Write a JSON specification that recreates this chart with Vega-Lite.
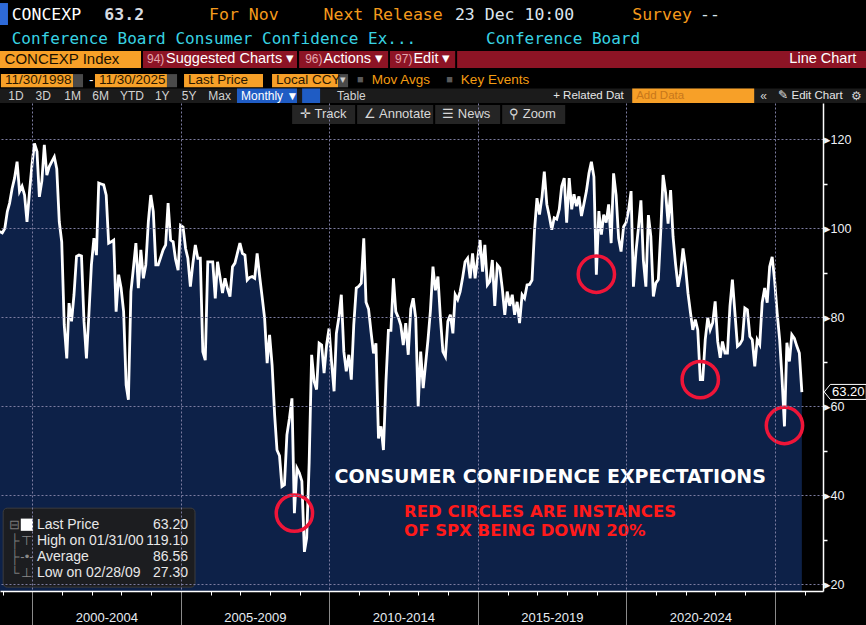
{
  "$schema": "https://vega.github.io/schema/vega-lite/v6.json",
  "width": 823,
  "height": 488,
  "autosize": {"type": "none"},
  "padding": {"left": 0, "top": 103, "right": 43, "bottom": 34},
  "background": "#000000",
  "config": {"view": {"stroke": null}, "font": "Liberation Sans"},
  "datasets": {
    "concexp": [
      {"date": "1998-11-28", "value": 99.3}, {"date": "1998-12-28", "value": 99},
      {"date": "1999-01-28", "value": 100}, {"date": "1999-02-28", "value": 103.8}, {"date": "1999-03-28", "value": 105.7}, {"date": "1999-04-28", "value": 109},
      {"date": "1999-05-28", "value": 111.3}, {"date": "1999-06-28", "value": 115}, {"date": "1999-07-28", "value": 108.3}, {"date": "1999-08-28", "value": 109.5},
      {"date": "1999-09-28", "value": 107.5}, {"date": "1999-10-28", "value": 101.5}, {"date": "1999-11-28", "value": 108.3}, {"date": "1999-12-28", "value": 114.3},
      {"date": "2000-01-28", "value": 119.1}, {"date": "2000-02-28", "value": 117.3}, {"date": "2000-03-28", "value": 107.1}, {"date": "2000-04-28", "value": 110.7},
      {"date": "2000-05-28", "value": 118.8}, {"date": "2000-06-28", "value": 112}, {"date": "2000-07-28", "value": 113.9}, {"date": "2000-08-28", "value": 115},
      {"date": "2000-09-28", "value": 116.1}, {"date": "2000-10-28", "value": 113.4}, {"date": "2000-11-28", "value": 101.5}, {"date": "2000-12-28", "value": 97},
      {"date": "2001-01-28", "value": 78.3}, {"date": "2001-02-28", "value": 70.8}, {"date": "2001-03-28", "value": 83.2}, {"date": "2001-04-28", "value": 79.1},
      {"date": "2001-05-28", "value": 85.1}, {"date": "2001-06-28", "value": 93.7}, {"date": "2001-07-28", "value": 94}, {"date": "2001-08-28", "value": 93.8},
      {"date": "2001-09-28", "value": 79.1}, {"date": "2001-10-28", "value": 70.8}, {"date": "2001-11-28", "value": 81}, {"date": "2001-12-28", "value": 91.8},
      {"date": "2002-01-28", "value": 97.8}, {"date": "2002-02-28", "value": 94}, {"date": "2002-03-28", "value": 110.2}, {"date": "2002-04-28", "value": 110},
      {"date": "2002-05-28", "value": 109.8}, {"date": "2002-06-28", "value": 107.5}, {"date": "2002-07-28", "value": 96.7}, {"date": "2002-08-28", "value": 97},
      {"date": "2002-09-28", "value": 97.4}, {"date": "2002-10-28", "value": 81.3}, {"date": "2002-11-28", "value": 89.6}, {"date": "2002-12-28", "value": 86.6},
      {"date": "2003-01-28", "value": 81.3}, {"date": "2003-02-28", "value": 64.8}, {"date": "2003-03-28", "value": 61.5}, {"date": "2003-04-28", "value": 85.8},
      {"date": "2003-05-28", "value": 91}, {"date": "2003-06-28", "value": 96.7}, {"date": "2003-07-28", "value": 86.6}, {"date": "2003-08-28", "value": 95.2},
      {"date": "2003-09-28", "value": 88.8}, {"date": "2003-10-28", "value": 91.8}, {"date": "2003-11-28", "value": 101.5}, {"date": "2003-12-28", "value": 107.5},
      {"date": "2004-01-28", "value": 103.8}, {"date": "2004-02-28", "value": 91.8}, {"date": "2004-03-28", "value": 91.8}, {"date": "2004-04-28", "value": 93.5},
      {"date": "2004-05-28", "value": 95.2}, {"date": "2004-06-28", "value": 96.3}, {"date": "2004-07-28", "value": 105.7}, {"date": "2004-08-28", "value": 97.4},
      {"date": "2004-09-28", "value": 97}, {"date": "2004-10-28", "value": 93}, {"date": "2004-11-28", "value": 90.6}, {"date": "2004-12-28", "value": 100.7},
      {"date": "2005-01-28", "value": 100.3}, {"date": "2005-02-28", "value": 95.5}, {"date": "2005-03-28", "value": 93.3}, {"date": "2005-04-28", "value": 86.9},
      {"date": "2005-05-28", "value": 92}, {"date": "2005-06-28", "value": 96.3}, {"date": "2005-07-28", "value": 93.3}, {"date": "2005-08-28", "value": 93.3},
      {"date": "2005-09-28", "value": 72.3}, {"date": "2005-10-28", "value": 70.4}, {"date": "2005-11-28", "value": 92.5}, {"date": "2005-12-28", "value": 92.5},
      {"date": "2006-01-28", "value": 92.5}, {"date": "2006-02-28", "value": 84.3}, {"date": "2006-03-28", "value": 92.5}, {"date": "2006-04-28", "value": 89},
      {"date": "2006-05-28", "value": 85.5}, {"date": "2006-06-28", "value": 88.8}, {"date": "2006-07-28", "value": 86.5}, {"date": "2006-08-28", "value": 84.7},
      {"date": "2006-09-28", "value": 91.4}, {"date": "2006-10-28", "value": 92.2}, {"date": "2006-11-28", "value": 94.5}, {"date": "2006-12-28", "value": 96.7},
      {"date": "2007-01-28", "value": 94.4}, {"date": "2007-02-28", "value": 94}, {"date": "2007-03-28", "value": 88.4}, {"date": "2007-04-28", "value": 89},
      {"date": "2007-05-28", "value": 89.2}, {"date": "2007-06-28", "value": 88.8}, {"date": "2007-07-28", "value": 94.4}, {"date": "2007-08-28", "value": 89.2},
      {"date": "2007-09-28", "value": 84.5}, {"date": "2007-10-28", "value": 79.8}, {"date": "2007-11-28", "value": 69.7}, {"date": "2007-12-28", "value": 76.1},
      {"date": "2008-01-28", "value": 69.3}, {"date": "2008-02-28", "value": 58.1}, {"date": "2008-03-28", "value": 50.2}, {"date": "2008-04-28", "value": 48.9},
      {"date": "2008-05-28", "value": 42}, {"date": "2008-06-28", "value": 42.4}, {"date": "2008-07-28", "value": 53.6}, {"date": "2008-08-28", "value": 57.3},
      {"date": "2008-09-28", "value": 61.8}, {"date": "2008-10-28", "value": 36}, {"date": "2008-11-28", "value": 46.1}, {"date": "2008-12-28", "value": 45},
      {"date": "2009-01-28", "value": 43.2}, {"date": "2009-02-28", "value": 27.3}, {"date": "2009-03-28", "value": 30.4}, {"date": "2009-04-28", "value": 47.5},
      {"date": "2009-05-28", "value": 71.6}, {"date": "2009-06-28", "value": 65.6}, {"date": "2009-07-28", "value": 63.8}, {"date": "2009-08-28", "value": 74.2},
      {"date": "2009-09-28", "value": 73.8}, {"date": "2009-10-28", "value": 67.5}, {"date": "2009-11-28", "value": 73.8}, {"date": "2009-12-28", "value": 77.5},
      {"date": "2010-01-28", "value": 70}, {"date": "2010-02-28", "value": 63.4}, {"date": "2010-03-28", "value": 76.4}, {"date": "2010-04-28", "value": 80},
      {"date": "2010-05-28", "value": 85.1}, {"date": "2010-06-28", "value": 72.3}, {"date": "2010-07-28", "value": 67.9}, {"date": "2010-08-28", "value": 71.6},
      {"date": "2010-09-28", "value": 66}, {"date": "2010-10-28", "value": 78.3}, {"date": "2010-11-28", "value": 86.6}, {"date": "2010-12-28", "value": 87},
      {"date": "2011-01-28", "value": 87.7}, {"date": "2011-02-28", "value": 97.8}, {"date": "2011-03-28", "value": 83.4}, {"date": "2011-04-28", "value": 81.9},
      {"date": "2011-05-28", "value": 76.8}, {"date": "2011-06-28", "value": 71.9}, {"date": "2011-07-28", "value": 74.2}, {"date": "2011-08-28", "value": 52.8},
      {"date": "2011-09-28", "value": 55.5}, {"date": "2011-10-28", "value": 50.2}, {"date": "2011-11-28", "value": 65.6}, {"date": "2011-12-28", "value": 77.1},
      {"date": "2012-01-28", "value": 77.1}, {"date": "2012-02-28", "value": 88.8}, {"date": "2012-03-28", "value": 81.3}, {"date": "2012-04-28", "value": 80},
      {"date": "2012-05-28", "value": 78.3}, {"date": "2012-06-28", "value": 73.8}, {"date": "2012-07-28", "value": 78.7}, {"date": "2012-08-28", "value": 71.6},
      {"date": "2012-09-28", "value": 81.9}, {"date": "2012-10-28", "value": 84.3}, {"date": "2012-11-28", "value": 79.8}, {"date": "2012-12-28", "value": 60},
      {"date": "2013-01-28", "value": 72.3}, {"date": "2013-02-28", "value": 64.1}, {"date": "2013-03-28", "value": 69.3}, {"date": "2013-04-28", "value": 75},
      {"date": "2013-05-28", "value": 81.6}, {"date": "2013-06-28", "value": 91.4}, {"date": "2013-07-28", "value": 86.1}, {"date": "2013-08-28", "value": 89.2},
      {"date": "2013-09-28", "value": 79.8}, {"date": "2013-10-28", "value": 72.3}, {"date": "2013-11-28", "value": 71.2}, {"date": "2013-12-28", "value": 79.1},
      {"date": "2014-01-28", "value": 80.6}, {"date": "2014-02-28", "value": 76.4}, {"date": "2014-03-28", "value": 85.1}, {"date": "2014-04-28", "value": 84},
      {"date": "2014-05-28", "value": 85.8}, {"date": "2014-06-28", "value": 89}, {"date": "2014-07-28", "value": 92.5}, {"date": "2014-08-28", "value": 93.3},
      {"date": "2014-09-28", "value": 88.8}, {"date": "2014-10-28", "value": 94.4}, {"date": "2014-11-28", "value": 88.8}, {"date": "2014-12-28", "value": 93},
      {"date": "2015-01-28", "value": 97.4}, {"date": "2015-02-28", "value": 90.3}, {"date": "2015-03-28", "value": 96.3}, {"date": "2015-04-28", "value": 87.3},
      {"date": "2015-05-28", "value": 88.1}, {"date": "2015-06-28", "value": 92.9}, {"date": "2015-07-28", "value": 82.6}, {"date": "2015-08-28", "value": 91.8},
      {"date": "2015-09-28", "value": 91.1}, {"date": "2015-10-28", "value": 86.6}, {"date": "2015-11-28", "value": 80.6}, {"date": "2015-12-28", "value": 85.8},
      {"date": "2016-01-28", "value": 82.6}, {"date": "2016-02-28", "value": 85.1}, {"date": "2016-03-28", "value": 80.6}, {"date": "2016-04-28", "value": 83.5},
      {"date": "2016-05-28", "value": 78.7}, {"date": "2016-06-28", "value": 85.1}, {"date": "2016-07-28", "value": 84.3}, {"date": "2016-08-28", "value": 87.3},
      {"date": "2016-09-28", "value": 87.4}, {"date": "2016-10-28", "value": 88.4}, {"date": "2016-11-28", "value": 99.7}, {"date": "2016-12-28", "value": 106.8},
      {"date": "2017-01-28", "value": 103.1}, {"date": "2017-02-28", "value": 107.1}, {"date": "2017-03-28", "value": 112.8}, {"date": "2017-04-28", "value": 105.4},
      {"date": "2017-05-28", "value": 102.8}, {"date": "2017-06-28", "value": 99.7}, {"date": "2017-07-28", "value": 102.4}, {"date": "2017-08-28", "value": 102.1},
      {"date": "2017-09-28", "value": 104.3}, {"date": "2017-10-28", "value": 109.5}, {"date": "2017-11-28", "value": 111.3}, {"date": "2017-12-28", "value": 101.3},
      {"date": "2018-01-28", "value": 111.3}, {"date": "2018-02-28", "value": 104.3}, {"date": "2018-03-28", "value": 107.7}, {"date": "2018-04-28", "value": 105},
      {"date": "2018-05-28", "value": 107.2}, {"date": "2018-06-28", "value": 102.8}, {"date": "2018-07-28", "value": 105.5}, {"date": "2018-08-28", "value": 108.4},
      {"date": "2018-09-28", "value": 112.4}, {"date": "2018-10-28", "value": 115}, {"date": "2018-11-28", "value": 111.6}, {"date": "2018-12-28", "value": 89.6},
      {"date": "2019-01-28", "value": 103.9}, {"date": "2019-02-28", "value": 98.6}, {"date": "2019-03-28", "value": 103.1}, {"date": "2019-04-28", "value": 101.3},
      {"date": "2019-05-28", "value": 105.4}, {"date": "2019-06-28", "value": 96.7}, {"date": "2019-07-28", "value": 112.4}, {"date": "2019-08-28", "value": 107.5},
      {"date": "2019-09-28", "value": 97.8}, {"date": "2019-10-28", "value": 94.8}, {"date": "2019-11-28", "value": 100.4}, {"date": "2019-12-28", "value": 101.3},
      {"date": "2020-01-28", "value": 104}, {"date": "2020-02-28", "value": 108.4}, {"date": "2020-03-28", "value": 86.9}, {"date": "2020-04-28", "value": 94.8},
      {"date": "2020-05-28", "value": 100}, {"date": "2020-06-28", "value": 106.3}, {"date": "2020-07-28", "value": 92.9}, {"date": "2020-08-28", "value": 86.9},
      {"date": "2020-09-28", "value": 103}, {"date": "2020-10-28", "value": 98.2}, {"date": "2020-11-28", "value": 84.7}, {"date": "2020-12-28", "value": 87.7},
      {"date": "2021-01-28", "value": 88.5}, {"date": "2021-02-28", "value": 99.7}, {"date": "2021-03-28", "value": 112}, {"date": "2021-04-28", "value": 108},
      {"date": "2021-05-28", "value": 101.1}, {"date": "2021-06-28", "value": 108.6}, {"date": "2021-07-28", "value": 98.2}, {"date": "2021-08-28", "value": 92},
      {"date": "2021-09-28", "value": 86.9}, {"date": "2021-10-28", "value": 89.9}, {"date": "2021-11-28", "value": 95.5}, {"date": "2021-12-28", "value": 91.4},
      {"date": "2022-01-28", "value": 85.4}, {"date": "2022-02-28", "value": 81}, {"date": "2022-03-28", "value": 77.2}, {"date": "2022-04-28", "value": 79.5},
      {"date": "2022-05-28", "value": 77.2}, {"date": "2022-06-28", "value": 66}, {"date": "2022-07-28", "value": 66}, {"date": "2022-08-28", "value": 75},
      {"date": "2022-09-28", "value": 79.9}, {"date": "2022-10-28", "value": 77.2}, {"date": "2022-11-28", "value": 78.8}, {"date": "2022-12-28", "value": 83.6},
      {"date": "2023-01-28", "value": 74.6}, {"date": "2023-02-28", "value": 70.9}, {"date": "2023-03-28", "value": 74.6}, {"date": "2023-04-28", "value": 72},
      {"date": "2023-05-28", "value": 72}, {"date": "2023-06-28", "value": 82.5}, {"date": "2023-07-28", "value": 88.5}, {"date": "2023-08-28", "value": 81},
      {"date": "2023-09-28", "value": 73.5}, {"date": "2023-10-28", "value": 74}, {"date": "2023-11-28", "value": 75}, {"date": "2023-12-28", "value": 82.1},
      {"date": "2024-01-28", "value": 81.7}, {"date": "2024-02-28", "value": 75.7}, {"date": "2024-03-28", "value": 75}, {"date": "2024-04-28", "value": 69},
      {"date": "2024-05-28", "value": 75}, {"date": "2024-06-28", "value": 73.9}, {"date": "2024-07-28", "value": 83.3}, {"date": "2024-08-28", "value": 86.6},
      {"date": "2024-09-28", "value": 83.3}, {"date": "2024-10-28", "value": 91.4}, {"date": "2024-11-28", "value": 93.6}, {"date": "2024-12-28", "value": 88.4},
      {"date": "2025-01-28", "value": 81}, {"date": "2025-02-28", "value": 75}, {"date": "2025-03-28", "value": 66.7}, {"date": "2025-04-28", "value": 55.5},
      {"date": "2025-05-28", "value": 74.3}, {"date": "2025-06-28", "value": 70.1}, {"date": "2025-07-28", "value": 76.1}, {"date": "2025-08-28", "value": 75.3},
      {"date": "2025-09-28", "value": 73.5}, {"date": "2025-10-28", "value": 72}, {"date": "2025-11-28", "value": 63.2}
    ],
    "spx_down_20": [
      {"date": "2008-10-28", "value": 36},
      {"date": "2018-12-28", "value": 89.7},
      {"date": "2022-06-28", "value": 66},
      {"date": "2025-04-28", "value": 55.7}
    ]
  },
  "layer": [
    {
      "data": {"name": "concexp"},
      "mark": {"type": "area", "color": "#0d2148", "clip": true},
      "encoding": {
        "x": {
          "field": "date", "type": "temporal", "title": null,
          "scale": {"domain": [{"year": 1998, "month": 11, "date": 30}, {"year": 2026, "month": 8, "date": 15}]},
          "axis": {
            "values": [{"year": 1999}, {"year": 2000}, {"year": 2001}, {"year": 2002}, {"year": 2003}, {"year": 2004}, {"year": 2005}, {"year": 2006}, {"year": 2007}, {"year": 2008}, {"year": 2009}, {"year": 2010}, {"year": 2011}, {"year": 2012}, {"year": 2013}, {"year": 2014}, {"year": 2015}, {"year": 2016}, {"year": 2017}, {"year": 2018}, {"year": 2019}, {"year": 2020}, {"year": 2021}, {"year": 2022}, {"year": 2023}, {"year": 2024}, {"year": 2025}, {"year": 2026}],
            "tickCount": 60,
            "title": null,
            "domainColor": "#ffffff", "domainWidth": 1.5,
            "tickColor": {"condition": {"test": "year(datum.value) % 5 === 0", "value": "#8a8a8a"}, "value": "#ffffff"},
            "tickSize": {"condition": {"test": "year(datum.value) % 5 === 0", "value": 34}, "value": 4},
            "tickWidth": 1,
            "grid": true, "gridColor": "#7c7ca0", "gridDash": [2, 2],
            "gridOpacity": {"condition": {"test": "year(datum.value) % 5 === 0", "value": 1}, "value": 0},
            "labelExpr": "year(datum.value) % 5 === 0 && year(datum.value) < 2025 ? year(datum.value) + '-' + (year(datum.value) + 4) : ''",
            "labelOffset": 74, "labelPadding": -14,
            "labelColor": "#e6ecf2", "labelFont": "Liberation Sans", "labelFontSize": 13,
            "labelOverlap": false, "labelBound": false, "labelFlush": false,
            "zindex": 1
          }
        },
        "y": {
          "field": "value", "type": "quantitative", "title": null,
          "scale": {"domain": [18.5, 128.2], "nice": false, "zero": false},
          "axis": {
            "orient": "right",
            "values": [20, 30, 40, 50, 60, 70, 80, 90, 100, 110, 120],
            "tickCount": 30,
            "title": null,
            "domainColor": "#ffffff", "domainWidth": 1.5,
            "tickColor": "#ffffff", "tickSize": 4, "tickWidth": 1.5,
            "grid": true, "gridColor": "#7c7ca0", "gridDash": [2, 2],
            "gridOpacity": {"condition": {"test": "datum.value % 20 === 0", "value": 1}, "value": 0},
            "labelExpr": "datum.value % 20 === 0 ? '▸' + datum.label : ''",
            "labelPadding": -4,
            "labelColor": "#eef2f6", "labelFont": "Liberation Sans", "labelFontSize": 12.5,
            "labelOverlap": false, "labelBound": false, "labelFlush": false,
            "zindex": 1
          }
        }
      }
    },
    {
      "data": {"name": "concexp"},
      "mark": {"type": "line", "color": "#ffffff", "strokeWidth": 2.8, "clip": true},
      "encoding": {
        "x": {"field": "date", "type": "temporal"},
        "y": {"field": "value", "type": "quantitative"}
      }
    },
    {
      "data": {"name": "spx_down_20"},
      "mark": {"type": "point", "shape": "circle", "filled": false, "color": "#ef1538", "strokeWidth": 3.5, "size": 1320, "opacity": 1},
      "encoding": {
        "x": {"field": "date", "type": "temporal"},
        "y": {"field": "value", "type": "quantitative"}
      }
    },
    {
      "data": {"values": [{}]},
      "layer": [
        {"mark": {"type": "text", "align": "center", "baseline": "middle", "font": "DejaVu Sans", "fontWeight": "bold", "fontSize": 19, "color": "#ffffff"},
         "encoding": {"x": {"datum": {"year": 2017, "month": 6, "date": 8}}, "y": {"datum": 44.16}, "text": {"value": "CONSUMER CONFIDENCE EXPECTATIONS"}}},
        {"mark": {"type": "text", "align": "left", "baseline": "middle", "font": "DejaVu Sans", "fontWeight": "bold", "fontSize": 16.5, "lineHeight": 18.4, "color": "#ff1a1a"},
         "encoding": {"x": {"datum": {"year": 2012, "month": 7, "date": 8}}, "y": {"datum": 36.22}, "text": {"value": ["RED CIRCLES ARE INSTANCES", "OF SPX BEING DOWN 20%"]}}},

        {"mark": {"type": "rect", "fill": "#1c1d20", "stroke": "#3c3c3c", "strokeWidth": 1, "cornerRadius": 4},
         "encoding": {"x": {"datum": {"year": 1999, "month": 1, "date": 8}}, "x2": {"datum": {"year": 2005, "month": 6, "date": 24}}, "y": {"datum": 37.12}, "y2": {"datum": 19.37}}},
        {"mark": {"type": "point", "shape": "square", "filled": true, "color": "#ffffff", "size": 150, "opacity": 1},
         "encoding": {"x": {"datum": {"year": 1999, "month": 10, "date": 27}}, "y": {"datum": 33.4}}},
        {"mark": {"type": "text", "align": "center", "baseline": "middle", "fontSize": 13, "lineHeight": 15.9, "color": "#7a7a7a"},
         "encoding": {"x": {"datum": {"year": 1999, "month": 6, "date": 1}}, "y": {"datum": 33.37}, "text": {"value": ["⊟", "├", "├", "└"]}}},
        {"mark": {"type": "text", "align": "center", "baseline": "middle", "fontSize": 13, "lineHeight": 15.9, "color": "#8a8a8a"},
         "encoding": {"x": {"datum": {"year": 1999, "month": 10, "date": 27}}, "y": {"datum": 33.37}, "text": {"value": [" ", "⊤", "-•-", "⊥"]}}},
        {"mark": {"type": "text", "align": "left", "baseline": "middle", "font": "Liberation Sans", "fontSize": 14, "lineHeight": 15.9, "color": "#e8e8e8"},
         "encoding": {"x": {"datum": {"year": 2000, "month": 2, "date": 27}}, "y": {"datum": 33.37}, "text": {"value": ["Last Price", "High on 01/31/00", "Average", "Low on 02/28/09"]}}},
        {"mark": {"type": "text", "align": "right", "baseline": "middle", "font": "Liberation Sans", "fontSize": 14, "lineHeight": 15.9, "color": "#e8e8e8"},
         "encoding": {"x": {"datum": {"year": 2005, "month": 3, "date": 30}}, "y": {"datum": 33.37}, "text": {"value": ["63.20", "119.10", "86.56", "27.30"]}}},

        {"mark": {"type": "point", "shape": "M -1 0 L -0.714 -0.357 L 1 -0.357 L 1 0.357 L -0.714 0.357 Z", "size": 1764, "filled": true, "fill": "#000000", "stroke": "#ffffff", "strokeWidth": 1, "opacity": 1},
         "encoding": {"x": {"datum": {"year": 2027, "month": 5, "date": 16}}, "y": {"datum": 63.25}}},
        {"mark": {"type": "text", "align": "center", "baseline": "middle", "font": "Liberation Sans", "fontSize": 13, "color": "#ffffff"},
         "encoding": {"x": {"datum": {"year": 2027, "month": 6, "date": 22}}, "y": {"datum": 63.25}, "text": {"value": "63.20"}}},

        {"mark": {"type": "rect", "color": "#2e6ad8"},
         "encoding": {"x": {"datum": {"year": 1998, "month": 11, "date": 30}}, "x2": {"datum": {"year": 1999, "month": 3, "date": 8}}, "y": {"datum": 150.67}, "y2": {"datum": 145.73}}},
        {"mark": {"type": "text", "align": "left", "baseline": "middle", "font": "DejaVu Sans Mono", "fontSize": 16.5, "color": "#ffffff"},
         "encoding": {"x": {"datum": {"year": 1999, "month": 4, "date": 22}}, "y": {"datum": 147.98}, "text": {"value": "CONCEXP"}}},
        {"mark": {"type": "text", "align": "left", "baseline": "middle", "font": "DejaVu Sans Mono", "fontSize": 16.5, "fontWeight": "bold", "color": "#d6dbe0"},
         "encoding": {"x": {"datum": {"year": 2002, "month": 6, "date": 5}}, "y": {"datum": 147.98}, "text": {"value": "63.2"}}},
        {"mark": {"type": "text", "align": "left", "baseline": "middle", "font": "DejaVu Sans Mono", "fontSize": 16.5, "color": "#f49a1c"},
         "encoding": {"x": {"datum": {"year": 2005, "month": 12, "date": 14}}, "y": {"datum": 147.98}, "text": {"value": "For Nov"}}},
        {"mark": {"type": "text", "align": "left", "baseline": "middle", "font": "DejaVu Sans Mono", "fontSize": 16.5, "color": "#f49a1c"},
         "encoding": {"x": {"datum": {"year": 2009, "month": 10, "date": 21}}, "y": {"datum": 147.98}, "text": {"value": "Next Release"}}},
        {"mark": {"type": "text", "align": "left", "baseline": "middle", "font": "DejaVu Sans Mono", "fontSize": 16.5, "color": "#dde5ee"},
         "encoding": {"x": {"datum": {"year": 2014, "month": 3, "date": 25}}, "y": {"datum": 147.98}, "text": {"value": "23 Dec 10:00"}}},
        {"mark": {"type": "text", "align": "left", "baseline": "middle", "font": "DejaVu Sans Mono", "fontSize": 16.5, "color": "#f49a1c"},
         "encoding": {"x": {"datum": {"year": 2020, "month": 3, "date": 13}}, "y": {"datum": 147.98}, "text": {"value": "Survey"}}},
        {"mark": {"type": "text", "align": "left", "baseline": "middle", "font": "DejaVu Sans Mono", "fontSize": 16.5, "color": "#dde5ee"},
         "encoding": {"x": {"datum": {"year": 2022, "month": 6, "date": 24}}, "y": {"datum": 147.98}, "text": {"value": "--"}}},
        {"mark": {"type": "text", "align": "left", "baseline": "middle", "font": "DejaVu Sans Mono", "fontSize": 16, "color": "#38d3e3"},
         "encoding": {"x": {"datum": {"year": 1999, "month": 4, "date": 22}}, "y": {"datum": 142.54}, "text": {"value": "Conference Board Consumer Confidence Ex..."}}},
        {"mark": {"type": "text", "align": "left", "baseline": "middle", "font": "DejaVu Sans Mono", "fontSize": 16, "color": "#38d3e3"},
         "encoding": {"x": {"datum": {"year": 2015, "month": 4, "date": 11}}, "y": {"datum": 142.54}, "text": {"value": "Conference Board"}}},

        {"mark": {"type": "rect", "color": "#f7a028"},
         "encoding": {"x": {"datum": {"year": 1998, "month": 11, "date": 30}}, "x2": {"datum": {"year": 2003, "month": 8, "date": 30}}, "y": {"datum": 139.89}, "y2": {"datum": 136.07}}},
        {"mark": {"type": "rect", "color": "#8d1425"},
         "encoding": {"x": {"datum": {"year": 2003, "month": 9, "date": 23}}, "x2": {"datum": {"year": 2028, "month": 1, "date": 30}}, "y": {"datum": 139.89}, "y2": {"datum": 136.07}}},
        {"mark": {"type": "rect", "color": "#000000"},
         "encoding": {"x": {"datum": {"year": 2008, "month": 11, "date": 29}}, "x2": {"datum": {"year": 2008, "month": 12, "date": 25}}, "y": {"datum": 139.89}, "y2": {"datum": 136.07}}},
        {"mark": {"type": "rect", "color": "#000000"},
         "encoding": {"x": {"datum": {"year": 2011, "month": 12, "date": 24}}, "x2": {"datum": {"year": 2012, "month": 1, "date": 17}}, "y": {"datum": 139.89}, "y2": {"datum": 136.07}}},
        {"mark": {"type": "rect", "color": "#000000"},
         "encoding": {"x": {"datum": {"year": 2014, "month": 3, "date": 28}}, "x2": {"datum": {"year": 2014, "month": 4, "date": 21}}, "y": {"datum": 139.89}, "y2": {"datum": 136.07}}},
        {"mark": {"type": "text", "align": "left", "baseline": "middle", "fontSize": 15, "color": "#1a1000"},
         "encoding": {"x": {"datum": {"year": 1999, "month": 1, "date": 25}}, "y": {"datum": 137.98}, "text": {"value": "CONCEXP Index"}}},
        {"mark": {"type": "text", "align": "left", "baseline": "middle", "fontSize": 12, "color": "#e4a6ae"},
         "encoding": {"x": {"datum": {"year": 2003, "month": 11, "date": 11}}, "y": {"datum": 137.98}, "text": {"value": "94)"}}},
        {"mark": {"type": "text", "align": "left", "baseline": "middle", "fontSize": 14.5, "color": "#ffffff"},
         "encoding": {"x": {"datum": {"year": 2004, "month": 7, "date": 3}}, "y": {"datum": 137.98}, "text": {"value": "Suggested Charts ▾"}}},
        {"mark": {"type": "text", "align": "left", "baseline": "middle", "fontSize": 12, "color": "#e4a6ae"},
         "encoding": {"x": {"datum": {"year": 2009, "month": 3, "date": 9}}, "y": {"datum": 137.98}, "text": {"value": "96)"}}},
        {"mark": {"type": "text", "align": "left", "baseline": "middle", "fontSize": 14.5, "color": "#ffffff"},
         "encoding": {"x": {"datum": {"year": 2009, "month": 10, "date": 21}}, "y": {"datum": 137.98}, "text": {"value": "Actions ▾"}}},
        {"mark": {"type": "text", "align": "left", "baseline": "middle", "fontSize": 12, "color": "#e4a6ae"},
         "encoding": {"x": {"datum": {"year": 2012, "month": 3, "date": 19}}, "y": {"datum": 137.98}, "text": {"value": "97)"}}},
        {"mark": {"type": "text", "align": "left", "baseline": "middle", "fontSize": 14.5, "color": "#ffffff"},
         "encoding": {"x": {"datum": {"year": 2012, "month": 10, "date": 31}}, "y": {"datum": 137.98}, "text": {"value": "Edit ▾"}}},
        {"mark": {"type": "text", "align": "right", "baseline": "middle", "fontSize": 14.5, "color": "#ffffff"},
         "encoding": {"x": {"datum": {"year": 2027, "month": 9, "date": 28}}, "y": {"datum": 137.98}, "text": {"value": "Line Chart"}}},

        {"mark": {"type": "rect", "color": "#f7a028"},
         "encoding": {"x": {"datum": {"year": 1998, "month": 12, "date": 11}}, "x2": {"datum": {"year": 2001, "month": 5, "date": 16}}, "y": {"datum": 134.7}, "y2": {"datum": 131.74}}},
        {"mark": {"type": "rect", "color": "#f7a028"},
         "encoding": {"x": {"datum": {"year": 2002, "month": 2, "date": 10}}, "x2": {"datum": {"year": 2004, "month": 7, "date": 14}}, "y": {"datum": 134.7}, "y2": {"datum": 131.74}}},
        {"mark": {"type": "rect", "color": "#f7a028"},
         "encoding": {"x": {"datum": {"year": 2005, "month": 2, "date": 9}}, "x2": {"datum": {"year": 2007, "month": 10, "date": 8}}, "y": {"datum": 134.7}, "y2": {"datum": 131.74}}},
        {"mark": {"type": "rect", "color": "#f7a028"},
         "encoding": {"x": {"datum": {"year": 2008, "month": 1, "date": 27}}, "x2": {"datum": {"year": 2010, "month": 4, "date": 18}}, "y": {"datum": 134.7}, "y2": {"datum": 131.74}}},
        {"mark": {"type": "rect", "color": "#4a4a4a"},
         "encoding": {"x": {"datum": {"year": 2001, "month": 5, "date": 16}}, "x2": {"datum": {"year": 2001, "month": 9, "date": 16}}, "y": {"datum": 134.7}, "y2": {"datum": 131.74}}},
        {"mark": {"type": "rect", "color": "#4a4a4a"},
         "encoding": {"x": {"datum": {"year": 2004, "month": 7, "date": 14}}, "x2": {"datum": {"year": 2004, "month": 11, "date": 15}}, "y": {"datum": 134.7}, "y2": {"datum": 131.74}}},
        {"mark": {"type": "rect", "color": "#4a4a4a"},
         "encoding": {"x": {"datum": {"year": 2010, "month": 4, "date": 18}}, "x2": {"datum": {"year": 2010, "month": 8, "date": 19}}, "y": {"datum": 134.7}, "y2": {"datum": 131.74}}},
        {"mark": {"type": "text", "align": "left", "baseline": "middle", "fontSize": 13.5, "color": "#2a1800"},
         "encoding": {"x": {"datum": {"year": 1999, "month": 1, "date": 29}}, "y": {"datum": 133.3}, "text": {"value": "11/30/1998"}}},
        {"mark": {"type": "text", "align": "left", "baseline": "middle", "fontSize": 13.5, "color": "#ffffff"},
         "encoding": {"x": {"datum": {"year": 2001, "month": 11, "date": 29}}, "y": {"datum": 133.3}, "text": {"value": "-"}}},
        {"mark": {"type": "text", "align": "left", "baseline": "middle", "fontSize": 13.5, "color": "#2a1800"},
         "encoding": {"x": {"datum": {"year": 2002, "month": 3, "date": 31}}, "y": {"datum": 133.3}, "text": {"value": "11/30/2025"}}},
        {"mark": {"type": "text", "align": "left", "baseline": "middle", "fontSize": 13.5, "color": "#2a1800"},
         "encoding": {"x": {"datum": {"year": 2005, "month": 3, "date": 30}}, "y": {"datum": 133.3}, "text": {"value": "Last Price"}}},
        {"mark": {"type": "text", "align": "left", "baseline": "middle", "fontSize": 13.5, "color": "#2a1800"},
         "encoding": {"x": {"datum": {"year": 2008, "month": 3, "date": 16}}, "y": {"datum": 133.3}, "text": {"value": "Local CCY"}}},
        {"mark": {"type": "text", "align": "center", "baseline": "middle", "fontSize": 11, "color": "#cfcfcf"},
         "encoding": {"x": {"datum": {"year": 2010, "month": 6, "date": 19}}, "y": {"datum": 133.3}, "text": {"value": "▾"}}},
        {"mark": {"type": "text", "align": "left", "baseline": "middle", "fontSize": 11, "color": "#5a5a5a"},
         "encoding": {"x": {"datum": {"year": 2010, "month": 12, "date": 8}}, "y": {"datum": 133.3}, "text": {"value": "■"}}},
        {"mark": {"type": "text", "align": "left", "baseline": "middle", "fontSize": 13.5, "color": "#f39c12"},
         "encoding": {"x": {"datum": {"year": 2011, "month": 6, "date": 6}}, "y": {"datum": 133.3}, "text": {"value": "Mov Avgs"}}},
        {"mark": {"type": "text", "align": "left", "baseline": "middle", "fontSize": 11, "color": "#5a5a5a"},
         "encoding": {"x": {"datum": {"year": 2013, "month": 12, "date": 7}}, "y": {"datum": 133.3}, "text": {"value": "■"}}},
        {"mark": {"type": "text", "align": "left", "baseline": "middle", "fontSize": 13.5, "color": "#f39c12"},
         "encoding": {"x": {"datum": {"year": 2014, "month": 6, "date": 6}}, "y": {"datum": 133.3}, "text": {"value": "Key Events"}}},

        {"mark": {"type": "rect", "color": "#1b1b1b"},
         "encoding": {"x": {"datum": {"year": 1998, "month": 11, "date": 30}}, "x2": {"datum": {"year": 2028, "month": 1, "date": 30}}, "y": {"datum": 131.46}, "y2": {"datum": 128.2}}},
        {"mark": {"type": "rect", "color": "#1f5cc4"},
         "encoding": {"x": {"datum": {"year": 2006, "month": 11, "date": 22}}, "x2": {"datum": {"year": 2008, "month": 11, "date": 29}}, "y": {"datum": 131.46}, "y2": {"datum": 128.2}}},
        {"mark": {"type": "rect", "color": "#1f5cc4"},
         "encoding": {"x": {"datum": {"year": 2009, "month": 1, "date": 31}}, "x2": {"datum": {"year": 2009, "month": 9, "date": 9}}, "y": {"datum": 131.46}, "y2": {"datum": 128.2}}},
        {"mark": {"type": "rect", "color": "#f7a028"},
         "encoding": {"x": {"datum": {"year": 2020, "month": 3, "date": 13}}, "x2": {"datum": {"year": 2024, "month": 4, "date": 21}}, "y": {"datum": 131.46}, "y2": {"datum": 128.2}}},
        {"mark": {"type": "text", "align": "left", "baseline": "middle", "fontSize": 12, "color": "#d2d2d2"},
         "encoding": {"x": {"datum": {"year": 1999, "month": 3, "date": 12}}, "y": {"datum": 129.78}, "text": {"value": "1D"}}},
        {"mark": {"type": "text", "align": "left", "baseline": "middle", "fontSize": 12, "color": "#d2d2d2"},
         "encoding": {"x": {"datum": {"year": 2000, "month": 2, "date": 11}}, "y": {"datum": 129.78}, "text": {"value": "3D"}}},
        {"mark": {"type": "text", "align": "left", "baseline": "middle", "fontSize": 12, "color": "#d2d2d2"},
         "encoding": {"x": {"datum": {"year": 2001, "month": 1, "date": 29}}, "y": {"datum": 129.78}, "text": {"value": "1M"}}},
        {"mark": {"type": "text", "align": "left", "baseline": "middle", "fontSize": 12, "color": "#d2d2d2"},
         "encoding": {"x": {"datum": {"year": 2002, "month": 1, "date": 8}}, "y": {"datum": 129.78}, "text": {"value": "6M"}}},
        {"mark": {"type": "text", "align": "left", "baseline": "middle", "fontSize": 12, "color": "#d2d2d2"},
         "encoding": {"x": {"datum": {"year": 2002, "month": 12, "date": 14}}, "y": {"datum": 129.78}, "text": {"value": "YTD"}}},
        {"mark": {"type": "text", "align": "left", "baseline": "middle", "fontSize": 12, "color": "#d2d2d2"},
         "encoding": {"x": {"datum": {"year": 2004, "month": 2, "date": 17}}, "y": {"datum": 129.78}, "text": {"value": "1Y"}}},
        {"mark": {"type": "text", "align": "left", "baseline": "middle", "fontSize": 12, "color": "#d2d2d2"},
         "encoding": {"x": {"datum": {"year": 2005, "month": 1, "date": 12}}, "y": {"datum": 129.78}, "text": {"value": "5Y"}}},
        {"mark": {"type": "text", "align": "left", "baseline": "middle", "fontSize": 12, "color": "#d2d2d2"},
         "encoding": {"x": {"datum": {"year": 2005, "month": 12, "date": 5}}, "y": {"datum": 129.78}, "text": {"value": "Max"}}},
        {"mark": {"type": "text", "align": "left", "baseline": "middle", "fontSize": 12, "color": "#ffffff"},
         "encoding": {"x": {"datum": {"year": 2007, "month": 1, "date": 11}}, "y": {"datum": 129.78}, "text": {"value": "Monthly ▼"}}},
        {"mark": {"type": "text", "align": "left", "baseline": "middle", "fontSize": 12, "color": "#d2d2d2"},
         "encoding": {"x": {"datum": {"year": 2010, "month": 4, "date": 6}}, "y": {"datum": 129.78}, "text": {"value": "Table"}}},
        {"mark": {"type": "text", "align": "left", "baseline": "middle", "fontSize": 11.5, "color": "#e6e6e6"},
         "encoding": {"x": {"datum": {"year": 2017, "month": 7, "date": 15}}, "y": {"datum": 129.78}, "text": {"value": "+ Related Dat"}}},
        {"mark": {"type": "text", "align": "left", "baseline": "middle", "fontSize": 11.5, "color": "#c8771a"},
         "encoding": {"x": {"datum": {"year": 2020, "month": 5, "date": 1}}, "y": {"datum": 129.78}, "text": {"value": "Add Data"}}},
        {"mark": {"type": "text", "align": "left", "baseline": "middle", "fontSize": 12, "color": "#d2d2d2"},
         "encoding": {"x": {"datum": {"year": 2024, "month": 7, "date": 4}}, "y": {"datum": 129.78}, "text": {"value": "«"}}},
        {"mark": {"type": "text", "align": "left", "baseline": "middle", "fontSize": 11.5, "color": "#e6e6e6"},
         "encoding": {"x": {"datum": {"year": 2025, "month": 2, "date": 11}}, "y": {"datum": 129.78}, "text": {"value": "✎ Edit Chart"}}},
        {"mark": {"type": "text", "align": "left", "baseline": "middle", "fontSize": 12, "color": "#d2d2d2"},
         "encoding": {"x": {"datum": {"year": 2027, "month": 7, "date": 29}}, "y": {"datum": 129.78}, "text": {"value": "⚙"}}},

        {"mark": {"type": "rect", "color": "#252525"},
         "encoding": {"x": {"datum": {"year": 2008, "month": 9, "date": 30}}, "x2": {"datum": {"year": 2010, "month": 11, "date": 14}}, "y": {"datum": 127.75}, "y2": {"datum": 123.48}}},
        {"mark": {"type": "rect", "color": "#252525"},
         "encoding": {"x": {"datum": {"year": 2010, "month": 12, "date": 8}}, "x2": {"datum": {"year": 2013, "month": 7, "date": 1}}, "y": {"datum": 127.75}, "y2": {"datum": 123.48}}},
        {"mark": {"type": "rect", "color": "#252525"},
         "encoding": {"x": {"datum": {"year": 2013, "month": 7, "date": 25}}, "x2": {"datum": {"year": 2015, "month": 10, "date": 2}}, "y": {"datum": 127.75}, "y2": {"datum": 123.48}}},
        {"mark": {"type": "rect", "color": "#252525"},
         "encoding": {"x": {"datum": {"year": 2015, "month": 10, "date": 27}}, "x2": {"datum": {"year": 2017, "month": 12, "date": 10}}, "y": {"datum": 127.75}, "y2": {"datum": 123.48}}},
        {"mark": {"type": "text", "align": "left", "baseline": "middle", "fontSize": 13, "color": "#d8d8d8"},
         "encoding": {"x": {"datum": {"year": 2009, "month": 1, "date": 6}}, "y": {"datum": 125.62}, "text": {"value": "✛ Track"}}},
        {"mark": {"type": "text", "align": "left", "baseline": "middle", "fontSize": 13, "color": "#d8d8d8"},
         "encoding": {"x": {"datum": {"year": 2011, "month": 3, "date": 4}}, "y": {"datum": 125.62}, "text": {"value": "∠ Annotate"}}},
        {"mark": {"type": "text", "align": "left", "baseline": "middle", "fontSize": 13, "color": "#d8d8d8"},
         "encoding": {"x": {"datum": {"year": 2013, "month": 10, "date": 19}}, "y": {"datum": 125.62}, "text": {"value": "☰ News"}}},
        {"mark": {"type": "text", "align": "left", "baseline": "middle", "fontSize": 13, "color": "#d8d8d8"},
         "encoding": {"x": {"datum": {"year": 2016, "month": 1, "date": 20}}, "y": {"datum": 125.62}, "text": {"value": "⚲ Zoom"}}}
      ]
    }
  ]
}
